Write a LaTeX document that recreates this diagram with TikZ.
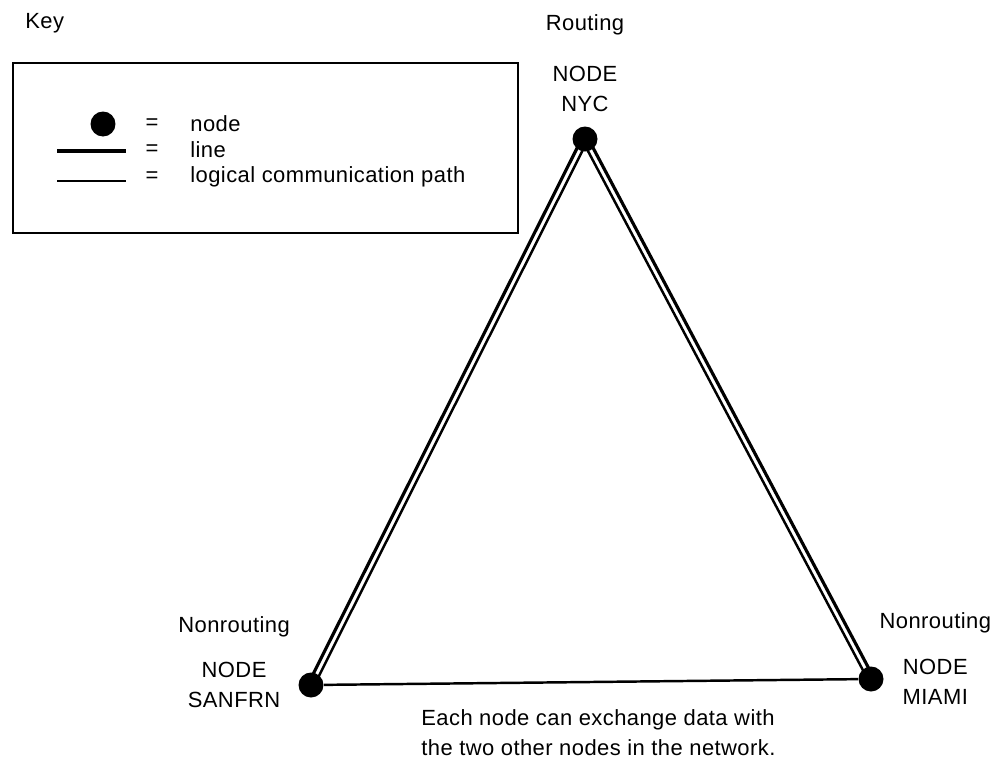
\documentclass[tikz,border=0pt]{standalone}
\usepackage{fontspec}
\setmainfont{Liberation Sans}[LetterSpace=2]
\usetikzlibrary{positioning,calc}

\begin{document}
\begin{tikzpicture}[
    x=0.02cm, y=-0.02cm,
    node distance=0.5cm and 0.35cm,
    punto/.style={
        circle,
        fill=black,
        inner sep=0pt,
        minimum size=0.5cm
    },
    rotulo/.style={
        font=\fontsize{12.5}{17}\selectfont,
        align=center,
        inner sep=0pt
    },
    marco/.style={
        draw,
        line width=1.5pt,
        minimum width=10.1cm,
        minimum height=3.4cm
    },
    enlace/.style={line width=1.8pt},
    logico/.style={line width=1.4pt}
]
\useasboundingbox (0,0) rectangle (995,758);

% key
\node[rotulo, anchor=west] (clave) at (25,23) {Key};
\node[marco] (caja) at (265.5,148) {};
\node[punto] (clavepunto) at (103,124) {};
\node[rotulo] (igual1) at (152,124) {=};
\node[rotulo] (igual2) at (152,150) {=};
\node[rotulo] (igual3) at (152,177) {=};
\node[rotulo, anchor=west] (txtnodo) at (190,124) {node};
\node[rotulo, anchor=west] (txtlinea) at (190,150) {line};
\node[rotulo, anchor=west] (txtcamino) at (190,177) {logical communication path};
\coordinate (l1a) at (57,151);
\coordinate (l1b) at (126,151);
\coordinate (l2a) at (57,181);
\coordinate (l2b) at (126,181);
\draw[enlace] (l1a) -- (l1b);
\draw[logico] (l2a) -- (l2b);

% network
\node[punto] (nyc) at (585,139) {};
\node[punto] (sanfrn) at (311,685) {};
\node[punto] (miami) at (871,679) {};

\node[rotulo, above=0.28cm of nyc] (nycnom) {NODE\\NYC};
\node[rotulo, above=0.62cm of nycnom] (nycrol) {Routing};
\node[rotulo, left=of sanfrn] (sfnom) {NODE\\SANFRN};
\node[rotulo, above=of sfnom] (sfrol) {Nonrouting};
\node[rotulo, right=0.37cm of miami, yshift=-0.05cm] (mianom) {NODE\\MIAMI};
\node[rotulo, above=of mianom] (miarol) {Nonrouting};

\draw[enlace] ($(nyc.center)!0.06cm!-90:(sanfrn.center)$) -- ($(sanfrn.center)!0.06cm!90:(nyc.center)$);
\draw[logico] ($(nyc.center)!0.06cm!90:(sanfrn.center)$) -- ($(sanfrn.center)!0.06cm!-90:(nyc.center)$);
\draw[enlace] ($(nyc.center)!0.06cm!90:(miami.center)$) -- ($(miami.center)!0.06cm!-90:(nyc.center)$);
\draw[logico] ($(nyc.center)!0.06cm!-90:(miami.center)$) -- ($(miami.center)!0.06cm!90:(nyc.center)$);
\draw[logico] (sanfrn) -- (miami);

\node[rotulo, align=left, anchor=north west] (nota) at (421,709)
{Each node can exchange data with\\the two other nodes in the network.};

\end{tikzpicture}
\end{document}
